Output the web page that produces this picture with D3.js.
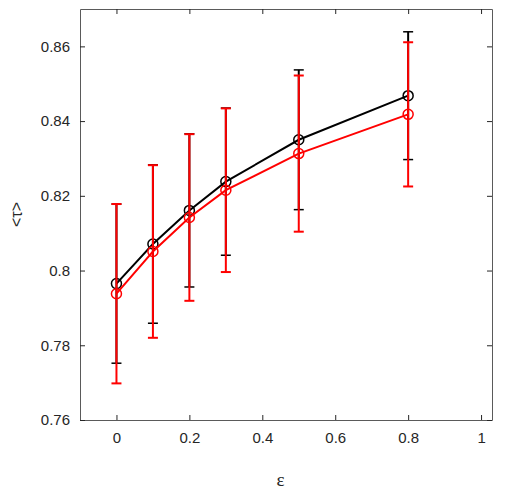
<!DOCTYPE html>
<html>
<head>
<meta charset="utf-8">
<title>tau vs epsilon</title>
<script src="https://d3js.org/d3.v7.min.js"></script>
<style>
body { margin: 0; background: #fff; }
.tick text { font-family: "Liberation Sans", Arial, sans-serif; font-size: 15px; fill: #262626; }
</style>
</head>
<body>
<script>
// data (symmetric error bars)
const eps = [0, 0.1, 0.2, 0.3, 0.5, 0.8]
const blackMean = [0.7965, 0.8071, 0.8161, 0.8238, 0.8350, 0.8468]
const blackErr = [0.0213, 0.0212, 0.0205, 0.0197, 0.0187, 0.0171]
const redMean = [0.7938, 0.8051, 0.8142, 0.8215, 0.8313, 0.8418]
const redErr = [0.0240, 0.0231, 0.0223, 0.0219, 0.0209, 0.0193]
const xTicks = [0, 0.2, 0.4, 0.6, 0.8, 1]
const yTicks = [0.76, 0.78, 0.80, 0.82, 0.84, 0.86]

var margin = {top: 9, right: 28, bottom: 80, left: 80},
    width = 520 - margin.left - margin.right,
    height = 500 - margin.top - margin.bottom;

var x = d3.scaleLinear().domain([-0.1, 1.03]).range([0, width])
var y = d3.scaleLinear().domain([0.76, 0.87]).range([height, 0])

var svg = d3.select("body").append("svg")
    .attr("width", 520)
    .attr("height", 500)
  .append("g")
    .attr("transform", "translate(" + margin.left + "," + margin.top + ")")

var axisColor = "#5a5a5a"

// axes with inward ticks, box on all sides
var fmt = d3.format("~g")
var gx = svg.append("g").attr("transform", "translate(0," + height + ")")
  .call(d3.axisBottom(x).tickValues(xTicks).tickFormat(fmt).tickSizeInner(-5).tickSizeOuter(0).tickPadding(12))
var gy = svg.append("g")
  .call(d3.axisLeft(y).tickValues(yTicks).tickFormat(fmt).tickSizeInner(-5).tickSizeOuter(0).tickPadding(10))
var gx2 = svg.append("g")
  .call(d3.axisTop(x).tickValues(xTicks).tickFormat("").tickSizeInner(-5).tickSizeOuter(0))
var gy2 = svg.append("g").attr("transform", "translate(" + width + ",0)")
  .call(d3.axisRight(y).tickValues(yTicks).tickFormat("").tickSizeInner(-5).tickSizeOuter(0))
;[gx, gy, gx2, gy2].forEach(function(g) {
  g.select(".domain").attr("stroke", axisColor)
  g.selectAll(".tick line").attr("stroke", "#262626")
})

function series(mean, err, color, capWidth) {
  var data = eps.map(function(e, i) { return {x: e, y: mean[i], e: err[i]} })
  var g = svg.append("g")
  g.selectAll(".bar").data(data).enter().append("line")
    .attr("x1", function(d) { return x(d.x) })
    .attr("x2", function(d) { return x(d.x) })
    .attr("y1", function(d) { return y(d.y - d.e) })
    .attr("y2", function(d) { return y(d.y + d.e) })
    .attr("stroke", color).attr("stroke-width", 2)
  ;["lo", "hi"].forEach(function(side) {
    g.selectAll(".cap" + side).data(data).enter().append("line")
      .attr("x1", function(d) { return x(d.x) - 5 })
      .attr("x2", function(d) { return x(d.x) + 5 })
      .attr("y1", function(d) { return y(side == "lo" ? d.y - d.e : d.y + d.e) })
      .attr("y2", function(d) { return y(side == "lo" ? d.y - d.e : d.y + d.e) })
      .attr("stroke", color).attr("stroke-width", capWidth)
  })
  var line = d3.line().x(function(d) { return x(d.x) }).y(function(d) { return y(d.y) })
  g.append("path").attr("d", line(data))
    .attr("fill", "none").attr("stroke", color).attr("stroke-width", 2)
  g.selectAll("circle").data(data).enter().append("circle")
    .attr("cx", function(d) { return x(d.x) })
    .attr("cy", function(d) { return y(d.y) })
    .attr("r", 5)
    .attr("fill", "none").attr("stroke", color).attr("stroke-width", 1.5)
}

series(blackMean, blackErr, "#000", 1.5)
series(redMean, redErr, "#ff0000", 2)

// labels
svg.append("text")
  .attr("x", x(0.45)).attr("y", height + 66)
  .attr("text-anchor", "middle")
  .attr("font-family", "'Liberation Serif', 'DejaVu Serif', serif")
  .attr("font-size", 19)
  .attr("fill", "#262626")
  .text("ε")

svg.append("text")
  .attr("transform", "translate(" + (-58) + "," + (height / 2) + ") rotate(-90)")
  .attr("text-anchor", "middle")
  .attr("font-family", "'Liberation Sans', Arial, sans-serif")
  .attr("font-size", 16)
  .attr("fill", "#262626")
  .text("<τ>")
</script>
</body>
</html>
